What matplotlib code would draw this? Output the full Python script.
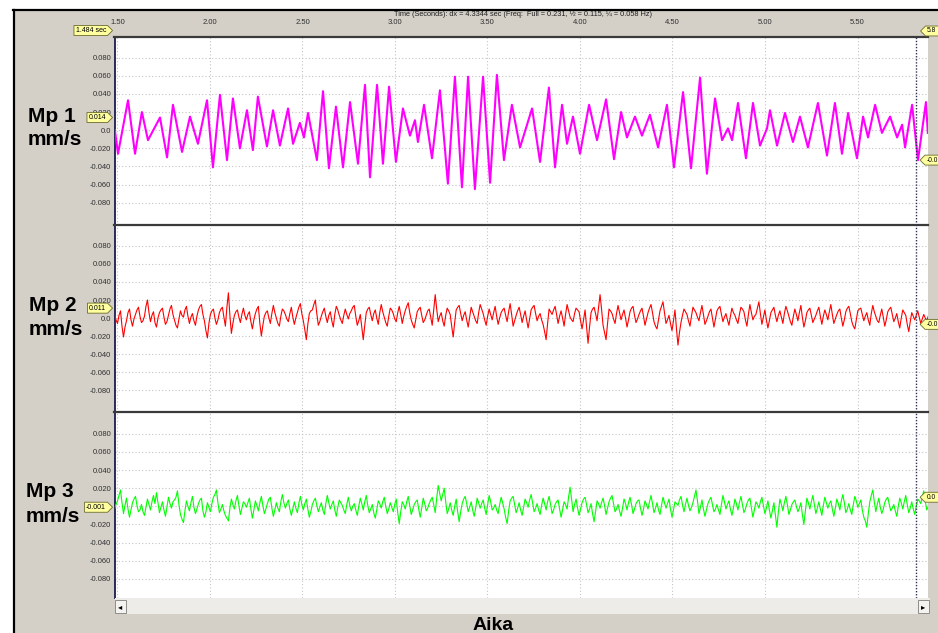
import numpy as np
import matplotlib.pyplot as plt
from matplotlib.path import Path
from matplotlib.patches import Rectangle
from matplotlib.lines import Line2D
from matplotlib.transforms import blended_transform_factory

plt.rcParams['font.family'] = ['Liberation Sans', 'DejaVu Sans']

W, H = 938, 633

# time axis, seconds
t_start, t_end = 1.484, 5.881
t_cursor = 5.818
x_ticks = [1.5, 2.0, 2.5, 3.0, 3.5, 4.0, 4.5, 5.0, 5.5]
x_tick_labels = ['1.50', '2.00', '2.50', '3.00', '3.50', '4.00', '4.50', '5.00', '5.50']

y_ticks = [0.08, 0.06, 0.04, 0.02, 0.0, -0.02, -0.04, -0.06, -0.08]
y_tick_labels = ['0.080', '0.060', '0.040', '0.020', '0.0',
                 '-0.020', '-0.040', '-0.060', '-0.080']

# Mp 1: peaks and troughs (time s, value 0.001 mm/s)
mp1_t = [1.486, 1.503, 1.557, 1.595, 1.632, 1.665, 1.730, 1.768, 1.800, 1.849,
         1.892, 1.935, 1.984, 2.016, 2.054, 2.092, 2.124, 2.162, 2.200, 2.232,
         2.259, 2.308, 2.341, 2.378, 2.422, 2.449, 2.486, 2.508, 2.530, 2.578,
         2.611, 2.643, 2.681, 2.719, 2.757, 2.800, 2.838, 2.865, 2.903, 2.935,
         2.968, 3.005, 3.043, 3.081, 3.108, 3.124, 3.157, 3.200, 3.243, 3.286,
         3.324, 3.362, 3.395, 3.432, 3.476, 3.514, 3.551, 3.589, 3.632, 3.676,
         3.741, 3.784, 3.832, 3.865, 3.903, 3.930, 3.962, 4.000, 4.049, 4.092,
         4.141, 4.184, 4.222, 4.254, 4.297, 4.335, 4.378, 4.422, 4.470, 4.508,
         4.557, 4.600, 4.649, 4.686, 4.730, 4.768, 4.800, 4.822, 4.854, 4.897,
         4.935, 4.973, 5.011, 5.027, 5.065, 5.108, 5.151, 5.189, 5.232, 5.286,
         5.335, 5.378, 5.416, 5.449, 5.497, 5.530, 5.557, 5.595, 5.632, 5.676,
         5.714, 5.741, 5.757, 5.795, 5.827, 5.870, 5.880]
mp1_v = [0, -26, 33, -26, 20, -11, 14, -30, 28, -24,
         15, -15, 33, -41, 39, -33, 35, -20, 22, -22,
         37, -18, 22, -17, 24, -15, 8, -8, 19, -33,
         43, -42, 26, -41, 31, -37, 50, -52, 50, -37,
         48, -35, 24, -6, 11, -13, 28, -31, 44, -59,
         59, -63, 59, -65, 59, -58, 61, -33, 28, -19,
         24, -35, 47, -41, 28, -15, 15, -26, 28, -11,
         34, -32, 20, -8, 15, -6, 17, -19, 28, -41,
         42, -42, 58, -48, 35, -11, 2, -11, 30, -31,
         30, -17, 2, 22, -17, 19, -13, 15, -19, 30,
         -28, 30, -26, 19, -31, 15, -8, 28, -3, 15,
         -8, 6, -19, 28, -33, 31, -3]

# Mp 2 and Mp 3: samples every dt from t_start (0.001 mm/s),
# *_mid are the samples half a step after each of those
dt = 0.0162
mp2_v = [5, -6, 8, -21, -3, 10, -9, 4, 12, -5, 2, 20, -4, 7, -10, 6,
         11, -7, 3, 14, -2, -11, 8, 1, 13, -6, 5, -8, 9, 15, -3, -22,
         4, 10, -7, 6, 12, -9, 28, -17, 3, 9, -5, 11, -2, 7, -12, 5,
         13, -20, 2, 8, -6, 14, 0, -9, 10, 4, -4, 12, -7, 6, 16, -3,
         -24, 5, 9, 20, -8, 2, 11, -5, 7, -10, 13, 3, -6, 10, -1, 8,
         14, -8, 4, -24, 6, 12, -3, 9, -7, 15, 1, -9, 11, 5, -4, 13,
         -6, 8, 17, -2, -11, 7, 12, -5, 3, 10, -8, 26, -4, 6, -9, 11,
         4, -21, 9, 14, -3, 7, -10, 12, 2, -6, 15, 5, -8, 10, -2, 13,
         -7, 6, 11, -4, 16, -9, 3, 12, -5, 8, -11, 9, 14, -3, 5, -7,
         -24, 10, 4, 13, -6, 8, -9, 15, 1, -4, 11, 7, -12, 9, -28, 6,
         12, -3, 26, -8, -24, 10, 5, -6, 14, -2, 9, -10, 7, 13, -5, 4,
         11, -8, 6, 15, -4, -12, 8, 18, -6, 3, -14, 9, -30, -5, 10, 4,
         -9, 12, 6, -3, 14, -7, 2, 10, -10, 8, 13, -4, 5, -8, 11, 3,
         -6, 12, 7, -9, 15, -2, 4, 18, -7, 9, -11, 6, 12, -4, 8, -6,
         13, 2, -8, 10, -3, 14, -10, 6, 11, -5, 3, 12, -7, 9, -2, 15,
         -6, 4, 10, -9, 7, 13, -4, -12, 8, 11, -3, 6, -8, 14, 2, -5,
         10, -9, 7, 12, -4, 5, -11, 9, 3, -15, 6, -2, 8, -6, 4, -3]
mp2_mid = [-2, 3, -9, -10, 6, -2, -1, 9, 2, -3, 13, 6, 3, -5, 0, 9,
           1, -4, 10, 4, -8, -1, 3, 9, 2, 1, -3, 2, 13, 4, -14, -6,
           8, 0, -2, 10, 1, 12, 3, -6, 7, 1, 4, 3, 4, -4, -2, 10,
           -6, -8, 6, 0, 5, 6, -6, 2, 8, -1, 5, 1, 0, 12, 5, -13,
           -7, 8, 15, 5, -4, 7, 2, 3, -3, 4, 9, -2, 3, 4, 5, 12,
           2, -3, -10, -8, 10, 4, 5, 0, 6, 7, -5, 2, 9, -1, 6, 4,
           2, 13, 6, -7, -2, 10, 3, -2, 8, 1, 9, 10, 2, -3, 3, 8,
           -9, -5, 12, 5, 3, -2, 1, 7, -3, 6, 10, -2, 2, 4, 6, 2,
           0, 9, 3, 7, 4, -3, 8, 4, 2, -2, -1, 12, 5, 2, -2, -15,
           -6, 7, 9, 4, 2, 0, 4, 8, -2, 5, 9, -3, -2, -10, -10, 10,
           5, 12, 10, -16, -6, 8, -1, 5, 6, 4, 0, -2, 11, 3, -1, 8,
           2, -1, 11, 6, -9, -2, 13, 6, -2, -6, -3, -12, -16, 3, 7, -3,
           2, 9, 1, 6, 4, -3, 7, 0, -1, 11, 4, 1, -2, 2, 6, -2,
           4, 10, -2, 4, 6, 2, 11, 5, 1, -2, -3, 9, 3, 3, 1, 5,
           8, -4, 2, 4, 6, 1, -3, 9, 3, -1, 8, 2, 2, 4, 7, 4,
           -1, 8, 0, -2, 11, 5, -9, -2, 10, 4, 2, -2, 5, 7, -3, 3,
           1, -2, 10, 4, 0, -4, 0, 6, -7, -4, 2, 3, 1, -1, 0, 2]
mp3_v = [-3, 6, 18, -8, 9, -12, 4, 11, -6, 2, -10, 8, -4, 12, 15, -7,
         5, -11, 10, -2, 7, 17, -9, -18, 6, -5, 11, -8, 3, 9, -12, 4,
         -6, 10, 18, -7, 2, -10, -16, 8, -3, 12, -9, 5, -1, 9, -13, 6,
         -5, 11, -8, 3, 10, -11, 4, -6, 13, -2, 7, -10, 5, -7, 11, -4,
         8, -12, 2, 9, -6, 4, -9, 12, -3, 6, -11, 7, 1, -8, 10, -5,
         3, -10, 9, -4, 12, -7, 2, -13, 6, -2, 10, -8, 4, -6, 8, -19,
         5, -3, 11, -9, 2, 7, -12, 9, -5, 3, 10, -7, 23, 6, 20, -8,
         4, -10, 8, -17, 3, 11, -6, 5, -11, 9, -2, 7, -9, 12, -4, 2,
         -8, 10, -3, -19, 6, 11, -7, 4, -10, 8, -1, 13, -6, 3, -9, 9,
         -4, 11, -8, 2, 7, -12, 5, -3, 21, -6, 8, -10, 4, 10, -7, 3,
         -17, 6, -2, 9, -9, 5, 12, -6, 2, -11, 8, -4, 10, -8, 3, 7,
         -10, 6, -3, 12, -7, 4, -9, 10, -2, 8, -12, 5, 1, 11, -6, 9,
         -5, 4, 18, -8, 7, -11, 3, 10, -6, 2, -9, 12, -3, 6, -10, 8,
         -4, 11, -7, 3, 9, -12, 5, -2, 10, -8, 6, -13, 4, -23, 8, -5,
         11, -9, 2, 7, -6, 4, -20, 9, -3, 12, -8, 5, -10, 10, -2, 6,
         -11, 8, -4, 13, -7, 3, -9, 11, -1, 7, -12, -23, 5, 18, -6, 9,
         -8, 4, 10, -5, 2, -11, 9, -3, 12, -7, 5, -9, 8, 3, 17, -4]
mp3_mid = [2, 12, 4, 1, -3, -4, 8, 1, -4, -6, -1, 2, 5, 3, 4, -1,
           -4, -1, 3, 5, 10, 2, -14, -5, 0, 4, -1, -3, 7, -5, -6, -1,
           3, 13, 4, -3, -5, -13, -2, 2, 6, 1, -2, 3, 4, -3, -4, 1,
           4, 1, -3, 8, -2, -4, -2, 5, 4, 3, -3, -3, -2, 3, 2, 3,
           -3, -6, 6, 1, -1, -4, 3, 4, 2, -4, -1, 4, -4, 2, 1, 0,
           -4, 0, 3, 5, 1, -3, -7, -4, 3, 5, 0, -3, -1, 2, -7, -6,
           2, 5, 1, -4, 5, -3, -2, 3, -2, 7, 2, 9, 14, 13, 5, -3,
           -4, 0, -6, -6, 8, 3, -1, -4, -2, 4, 3, -2, 2, 5, -2, -4,
           2, 4, -12, -5, 9, 2, -2, -4, -1, 4, 7, 4, -2, -4, 1, 3,
           5, 2, -4, 5, -3, -4, 2, 10, 8, 2, -2, -3, 8, 2, -3, -8,
           -6, 3, 4, 1, -2, 9, 3, -3, -5, -2, 3, 4, 2, -3, 6, -2,
           -3, 2, 5, 3, -2, -4, 1, 4, 3, -3, -4, 3, 7, 2, 2, 1,
           -1, 11, 6, -1, -3, -4, 7, 2, -3, -4, 2, 5, 2, -3, -2, 3,
           4, 2, -3, 7, -2, -4, 2, 5, 1, -2, -4, -5, -10, -6, 2, 4,
           2, -4, 5, 0, -2, -9, -6, 4, 5, 2, -2, -3, 1, 4, 3, -3,
           -2, 3, 6, 4, -3, -4, 2, 6, 3, -4, -16, -8, 12, 5, 2, -1,
           -3, 8, 2, -2, -5, 0, 4, 5, 2, -2, -3, 0, 6, 10, 6, 0]

channels = ['Mp 1', 'Mp 2', 'Mp 3']
units = 'mm/s'
colors = ['#FF00FF', '#FF0000', '#00FF00']
cursor_left = [0.014, 0.011, -0.001]
cursor_left_txt = ['0.014', '0.011', '-0.001']
cursor_right = [-0.033, -0.007, 0.010]
cursor_right_txt = ['-0.0', '-0.0', '0.0']


def sampled(main, mid):
    v = np.column_stack([main, mid]).ravel() * 1e-3
    return t_start + dt / 2 * np.arange(len(v)), v


series = [
    (np.array(mp1_t), np.array(mp1_v) * 1e-3),
    sampled(mp2_v, mp2_mid),
    sampled(mp3_v, mp3_mid),
]

GRAY = '#D4D0C8'


def fx(px):
    return px / W


def fy(py):
    return 1 - py / H


def tag_right(x0, y0, width, height, mutation_size):
    p = 0.22 * mutation_size
    x0, y0, x1, y1 = x0 - p, y0 - p, x0 + width + p, y0 + height + p
    tip = (y1 - y0) / 2
    return Path([(x0, y0), (x1, y0), (x1 + tip, (y0 + y1) / 2), (x1, y1), (x0, y1), (x0, y0)],
                closed=True)


def tag_left(x0, y0, width, height, mutation_size):
    p = 0.22 * mutation_size
    x0, y0, x1, y1 = x0 - p, y0 - p, x0 + width + p * 3, y0 + height + p
    tip = (y1 - y0) / 2
    return Path([(x0, y0), (x1, y0), (x1, y1), (x0, y1), (x0 - tip, (y0 + y1) / 2), (x0, y0)],
                closed=True)


tag_box = dict(fc='#FFFFA0', ec='#6b6b2a', lw=0.6)

fig = plt.figure(figsize=(W / 100, H / 100), dpi=100)
fig.patch.set_facecolor('white')

# window background and frame
fig.add_artist(Rectangle((fx(13), 0), 1 - fx(13), fy(10), transform=fig.transFigure,
                         fc=GRAY, ec='none', zorder=-2))
fig.add_artist(Line2D([fx(13), 1], [fy(10), fy(10)], transform=fig.transFigure,
                      color='black', lw=1.6))
fig.add_artist(Line2D([fx(13.5), fx(13.5)], [0, fy(10)], transform=fig.transFigure,
                      color='black', lw=1.6))

tops = [37, 225, 412]
bottoms = [225, 412, 598]
ylims = [(-0.1046, 0.1028), (-0.1042, 0.1032), (-0.101, 0.1039)]
label_base = [(28, 121.7, 145.0), (29, 310.7, 335.0), (26, 497.3, 521.7)]
line_widths = [1.5, 0.8, 0.8]

for i in range(3):
    ax = fig.add_axes([fx(114.5), fy(bottoms[i]), fx(928) - fx(114.5),
                       (bottoms[i] - tops[i]) / H])
    t, v = series[i]
    ax.plot(t, v, color=colors[i], lw=line_widths[i], zorder=3)
    ax.set_xlim(t_start, t_end)
    ax.set_ylim(*ylims[i])
    ax.set_xticks(x_ticks)
    ax.set_yticks(y_ticks)
    ax.set_yticklabels(y_tick_labels)
    ax.grid(True, color='#C4C4C4', linestyle=(0, (1, 2)), lw=0.8)
    ax.set_axisbelow(True)
    ax.tick_params(axis='y', length=0, pad=2.5, labelsize=5.5, labelcolor='#303030')
    if i == 0:
        ax.xaxis.set_ticks_position('top')
        ax.tick_params(axis='x', length=0, pad=8, labelsize=5.5, labelcolor='#303030',
                       labeltop=True, labelbottom=False)
        ax.set_xticklabels(x_tick_labels)
    else:
        ax.tick_params(axis='x', length=0, labelbottom=False, labeltop=False)
    ax.axvline(t_cursor, color='#303050', lw=1.0, linestyle=(0, (1, 1.2)), zorder=4)
    ax.spines['right'].set_visible(False)
    ax.spines['bottom'].set_visible(False)
    ax.spines['top'].set_color('#3a3a3a')
    ax.spines['top'].set_linewidth(1.6)
    ax.spines['left'].set_color('#1a1a50')
    ax.spines['left'].set_linestyle((0, (1, 1)))
    ax.spines['left'].set_linewidth(1.3)

    # channel label
    x0, b1, b2 = label_base[i]
    fig.text(fx(x0), fy(b1), channels[i], fontsize=15, fontweight='bold',
             ha='left', va='baseline')
    fig.text(fx(x0), fy(b2), units, fontsize=15, fontweight='bold',
             ha='left', va='baseline')

    # cursor value tags
    tr = blended_transform_factory(fig.transFigure, ax.transData)
    ax.text(fx(106), cursor_left[i], cursor_left_txt[i], transform=tr, fontsize=5,
            ha='right', va='center', clip_on=False, zorder=6,
            bbox=dict(boxstyle=tag_right, **tag_box))
    ax.text(fx(926.5), cursor_right[i], cursor_right_txt[i], transform=tr, fontsize=4.8,
            ha='left', va='center', clip_on=False, zorder=6,
            bbox=dict(boxstyle=tag_left, **tag_box))

# top cursor tags and header
fig.text(fx(106), fy(30.5), '1.484 sec', fontsize=5, ha='right', va='center',
         bbox=dict(boxstyle=tag_right, **tag_box))
fig.text(fx(927), fy(31), '5.8', fontsize=4.8, ha='left', va='center',
         bbox=dict(boxstyle=tag_left, **tag_box))
fig.text(fx(523), fy(14.5),
         'Time (Seconds): dx = 4.3344 sec (Freq:  Full = 0.231, \u00bd = 0.115, \u00bc = 0.058 Hz)',
         fontsize=5.3, ha='center', va='center', color='#202020')

# scrollbar
fig.add_artist(Rectangle((fx(114.5), fy(613.5)), fx(930) - fx(114.5), (613.5 - 598) / H,
                         transform=fig.transFigure, fc='#EDECE8', ec='none'))
for bx, arrow in [(115, '\u25c2'), (917.5, '\u25b8')]:
    fig.add_artist(Rectangle((fx(bx), fy(612.5)), 11 / W, 12.5 / H, transform=fig.transFigure,
                             fc='#F4F3EF', ec='#8c8c8c', lw=0.7))
    fig.text(fx(bx + 5.5), fy(606.3), arrow, fontsize=6, ha='center', va='center',
             family=['DejaVu Sans'])

fig.text(fx(493), fy(630), 'Aika', fontsize=14, fontweight='bold', ha='center',
         va='baseline')

fig.savefig('out.png', dpi=100)
